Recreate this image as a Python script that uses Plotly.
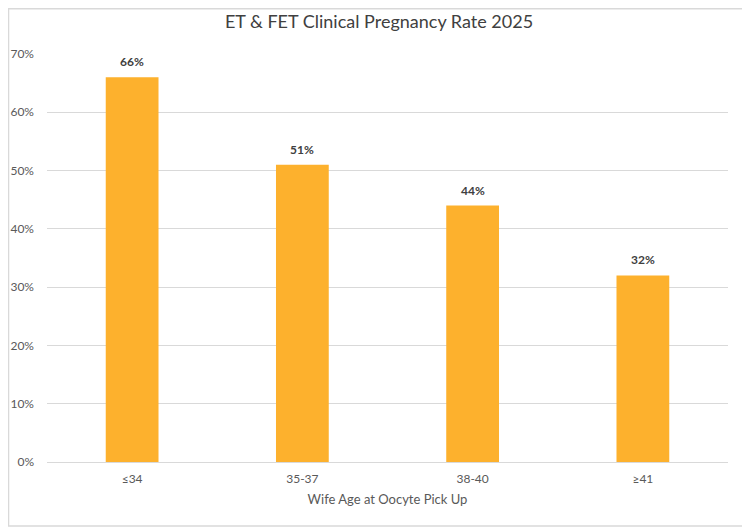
import plotly.graph_objs as go

# data
age_groups = ['≤34', '35-37', '38-40', '≥41']
pregnancy_rate = [0.66, 0.51, 0.44, 0.32]
rate_labels = ['66%', '51%', '44%', '32%']

fig = go.Figure(go.Bar(
    x=age_groups,
    y=pregnancy_rate,
    marker=dict(color='#FDB12D', line=dict(width=0)),
    width=0.31,
))

# value labels above bars
for cat, val, lab in zip(age_groups, pregnancy_rate, rate_labels):
    fig.add_annotation(x=cat, y=val, text='<b>' + lab + '</b>', showarrow=False,
                       yanchor='bottom', yshift=6,
                       font=dict(size=12, color='#404040'))

# page body has an 8px margin, so the figure is a little smaller than the window
fig.update_layout(
    width=742, height=522,
    margin=dict(l=39, r=22, t=46, b=68, autoexpand=False),
    paper_bgcolor='white', plot_bgcolor='white',
    font=dict(family='Lato', color='#595959', size=12),
    title=dict(text='ET & FET Clinical Pregnancy Rate 2025', x=0.5, xanchor='center',
               y=0.973, yanchor='middle', font=dict(size=18, color='#404040')),
    showlegend=False,
)
fig.update_yaxes(range=[0, 0.7], dtick=0.1, tickformat='.0%', gridcolor='#D9D9D9',
                 zeroline=False, showline=False, ticks='', ticklabelstandoff=12,
                 automargin=False)
fig.update_xaxes(showline=True, linecolor='#D9D9D9', linewidth=1, ticks='',
                 ticklabelstandoff=6, automargin=False,
                 title=dict(text='Wife Age at Oocyte Pick Up', font=dict(size=13, color='#595959'),
                            standoff=9))

# outer chart border
fig.add_shape(type='rect', xref='paper', yref='paper',
              x0=-0.0565, x1=1.025, y0=-0.157, y1=1.111,
              line=dict(color='#D9D9D9', width=1.5), layer='below')

fig.write_html('out.html')
